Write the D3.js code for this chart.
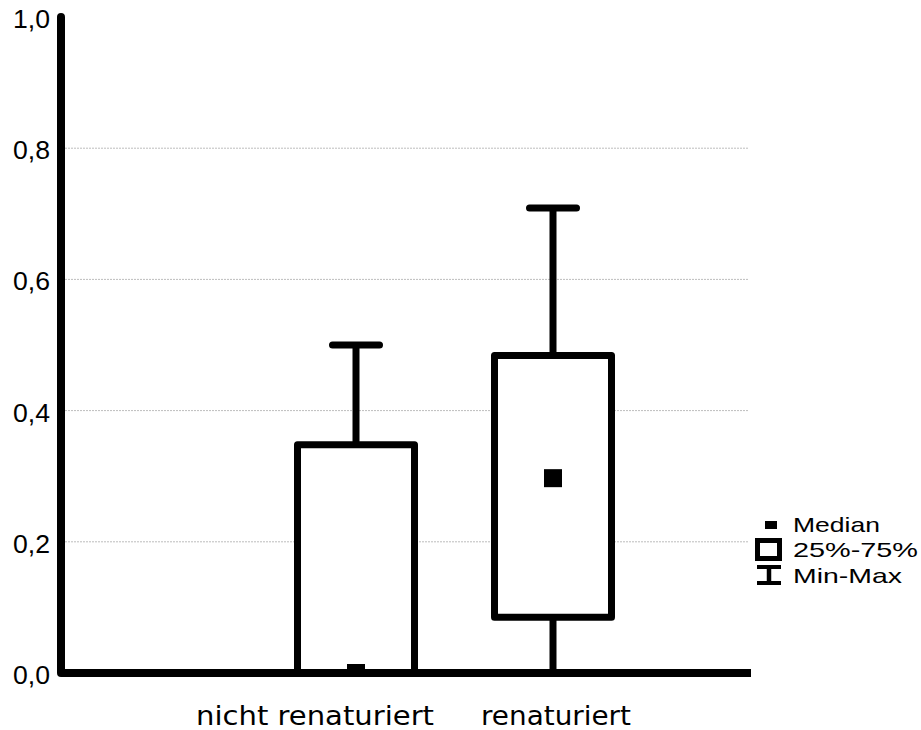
<!DOCTYPE html>
<html>
<head>
<meta charset="utf-8">
<script src="https://cdn.jsdelivr.net/npm/d3@7"></script>
<style>
  html, body { margin: 0; padding: 0; background: #fff; }
  svg { display: block; }
</style>
</head>
<body>
<svg id="chart" width="921" height="730"></svg>
<script>
// ---- data ----
const categories = ["nicht renaturiert", "renaturiert"];
const minValues    = [0.0, 0.0];
const q1Values     = [0.0, 0.085];
const medianValues = [0.0, 0.297];
const q3Values     = [0.348, 0.484];
const maxValues    = [0.5, 0.709];
const yTicks = [0.0, 0.2, 0.4, 0.6, 0.8, 1.0];
const legendLabels = ["Median", "25%-75%", "Min-Max"];

const svg = d3.select("#chart");
const fmt = v => d3.format(".1f")(v).replace(".", ",");

const xLeft = 61, xRight = 751;
const y = d3.scaleLinear().domain([0, 1]).range([673, 17]);
const x = d3.scalePoint().domain(categories).range([356, 553]);
const boxW = 117, capW = 47, medSize = 18, sw = 7;

svg.append("defs").append("clipPath").attr("id", "plotClip")
  .append("rect").attr("x", 0).attr("y", 0).attr("width", 921).attr("height", y(0));

// grid lines
svg.append("g").selectAll("line")
  .data(yTicks.filter(t => t > 0 && t < 1))
  .join("line")
  .attr("x1", xLeft + 4).attr("x2", xRight - 2)
  .attr("y1", d => y(d)).attr("y2", d => y(d))
  .attr("stroke", "#bdbdbd").attr("stroke-width", 1)
  .attr("stroke-dasharray", "2,1");

// y axis via d3 axis (labels only; line drawn separately)
const yAxis = svg.append("g")
  .attr("transform", `translate(${xLeft},0)`)
  .call(d3.axisLeft(y).tickValues(yTicks).tickFormat(fmt).tickSize(0).tickPadding(11));
yAxis.select(".domain").remove();
yAxis.attr("font-size", null).attr("font-family", null);
yAxis.selectAll("text")
  .attr("font-family", "'Liberation Sans', Arial, sans-serif")
  .attr("font-size", 25).attr("fill", "#000").attr("dy", "0.42em")
  .attr("textLength", 37).attr("lengthAdjust", "spacingAndGlyphs");

// boxes
const data = categories.map((c, i) => ({
  c, min: minValues[i], q1: q1Values[i], med: medianValues[i], q3: q3Values[i], max: maxValues[i]
}));

const g = svg.append("g").attr("clip-path", "url(#plotClip)");
data.forEach(d => {
  const cx = x(d.c);
  // upper whisker
  g.append("line").attr("x1", cx).attr("x2", cx).attr("y1", y(d.q3)).attr("y2", y(d.max))
    .attr("stroke", "#000").attr("stroke-width", sw);
  g.append("line").attr("x1", cx - capW / 2).attr("x2", cx + capW / 2)
    .attr("y1", y(d.max)).attr("y2", y(d.max))
    .attr("stroke", "#000").attr("stroke-width", sw).attr("stroke-linecap", "round");
  // lower whisker
  g.append("line").attr("x1", cx).attr("x2", cx).attr("y1", y(d.q1)).attr("y2", y(d.min))
    .attr("stroke", "#000").attr("stroke-width", sw);
  g.append("line").attr("x1", cx - capW / 2).attr("x2", cx + capW / 2)
    .attr("y1", y(d.min)).attr("y2", y(d.min))
    .attr("stroke", "#000").attr("stroke-width", sw).attr("stroke-linecap", "round");
  // box
  g.append("rect").attr("x", cx - boxW / 2).attr("width", boxW)
    .attr("y", y(d.q3)).attr("height", y(d.q1) - y(d.q3))
    .attr("fill", "#fff").attr("stroke", "#000").attr("stroke-width", sw)
    .attr("stroke-linejoin", "round");
  // median
  g.append("rect").attr("x", cx - medSize / 2).attr("y", y(d.med) - medSize / 2)
    .attr("width", medSize).attr("height", medSize).attr("fill", "#000");
});

// axis lines
svg.append("path")
  .attr("d", `M${xLeft},${y(1)} L${xLeft},${y(0)} L${xRight},${y(0)}`)
  .attr("fill", "none").attr("stroke", "#000").attr("stroke-width", 8)
  .attr("stroke-linejoin", "round").attr("stroke-linecap", "round");
svg.append("rect").attr("x", xRight).attr("y", y(0) - 6).attr("width", 8).attr("height", 12).attr("fill", "#fff");

// category labels
const labelLens = [238, 150];
svg.append("g").selectAll("text")
  .data(categories)
  .join("text")
  .attr("x", d => x(d) + 78)
  .attr("y", 725)
  .attr("text-anchor", "end")
  .attr("font-family", "'DejaVu Sans', Verdana, sans-serif")
  .attr("font-size", 26)
  .attr("fill", "#000")
  .attr("textLength", (d, i) => labelLens[i])
  .attr("lengthAdjust", "spacingAndGlyphs")
  .text(d => d);

// legend
const lg = svg.append("g");
lg.append("rect").attr("x", 765).attr("y", 521).attr("width", 12).attr("height", 8).attr("fill", "#000");
lg.append("rect").attr("x", 757.5).attr("y", 540.5).attr("width", 22).attr("height", 18)
  .attr("fill", "#fff").attr("stroke", "#000").attr("stroke-width", 5);
lg.append("line").attr("x1", 757).attr("x2", 781).attr("y1", 567).attr("y2", 567).attr("stroke", "#000").attr("stroke-width", 4);
lg.append("line").attr("x1", 769).attr("x2", 769).attr("y1", 567).attr("y2", 583).attr("stroke", "#000").attr("stroke-width", 4.5);
lg.append("line").attr("x1", 757).attr("x2", 781).attr("y1", 583).attr("y2", 583).attr("stroke", "#000").attr("stroke-width", 4);

const legendLens = [87, 125, 109];
const legendBase = [532, 557, 583];
lg.selectAll("text.leg")
  .data(legendLabels)
  .join("text")
  .attr("class", "leg")
  .attr("x", 793)
  .attr("y", (d, i) => legendBase[i])
  .attr("font-family", "'Liberation Sans', Arial, sans-serif")
  .attr("font-size", 21)
  .attr("fill", "#000")
  .attr("textLength", (d, i) => legendLens[i])
  .attr("lengthAdjust", "spacingAndGlyphs")
  .text(d => d);
</script>
</body>
</html>
